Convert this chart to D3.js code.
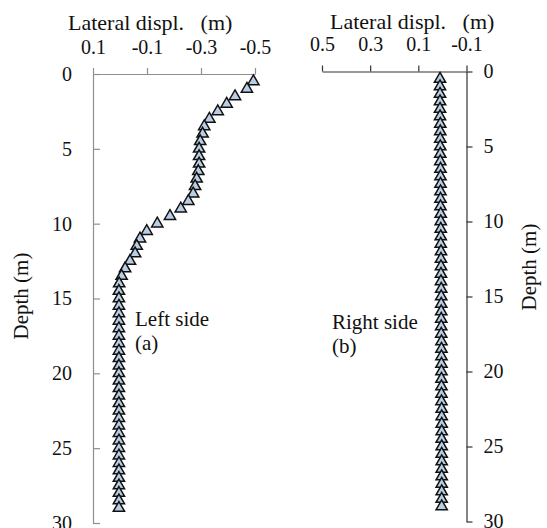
<!DOCTYPE html>
<html>
<head>
<meta charset="utf-8">
<script src="https://cdnjs.cloudflare.com/ajax/libs/d3/7.8.5/d3.min.js"></script>
<style>
  body { margin: 0; background: #fff; }
  svg text { font-family: "Liberation Serif", "Times New Roman", serif; fill: #111; }
  .pre { white-space: pre; }
</style>
</head>
<body>
<div id="chart"></div>
<script>

// depth of each reading (m), same for both sides
var depths = [0.5, 1, 1.5, 2, 2.5, 3, 3.5, 4, 4.5, 5, 5.5, 6, 6.5, 7, 7.5, 8, 8.5, 9, 9.5, 10,
              10.5, 11, 11.5, 12, 12.5, 13, 13.5, 14, 14.5, 15, 15.5, 16, 16.5, 17, 17.5, 18, 18.5, 19, 19.5, 20,
              20.5, 21, 21.5, 22, 22.5, 23, 23.5, 24, 24.5, 25, 25.5, 26, 26.5, 27, 27.5, 28, 28.5, 29];

// lateral displacement, left side (m)
var leftDispl = [-0.494, -0.470, -0.426, -0.395, -0.362, -0.331, -0.312, -0.306, -0.297, -0.293,
                 -0.293, -0.293, -0.290, -0.284, -0.278, -0.271, -0.253, -0.225, -0.185, -0.138,
                 -0.099, -0.074, -0.062, -0.056, -0.037, -0.019, -0.006, 0.003, 0.004, 0.004,
                 0.004, 0.004, 0.004, 0.004, 0.004, 0.004, 0.004, 0.004, 0.004, 0.004,
                 0.004, 0.004, 0.004, 0.004, 0.004, 0.004, 0.004, 0.004, 0.004, 0.004,
                 0.004, 0.004, 0.004, 0.004, 0.004, 0.004, 0.004, 0.004];

// lateral displacement, right side (m)
var rightDispl = [0.010, 0.010, 0.010, 0.010, 0.010, 0.010, 0.009, 0.009, 0.009, 0.009,
                  0.009, 0.009, 0.008, 0.008, 0.008, 0.008, 0.008, 0.008, 0.007, 0.007,
                  0.007, 0.007, 0.007, 0.006, 0.006, 0.006, 0.006, 0.006, 0.005, 0.005,
                  0.005, 0.005, 0.005, 0.005, 0.005, 0.004, 0.004, 0.004, 0.004, 0.004,
                  0.004, 0.004, 0.004, 0.004, 0.003, 0.003, 0.003, 0.003, 0.003, 0.003,
                  0.003, 0.003, 0.003, 0.003, 0.003, 0.003, 0.003, 0.003];

var leftTicks  = [0.1, -0.1, -0.3, -0.5],
    rightTicks = [0.5, 0.3, 0.1, -0.1],
    depthTicks = [0, 5, 10, 15, 20, 25, 30];

var width = 547, height = 528;

var svg = d3.select("#chart").append("svg")
            .attr("width", width).attr("height", height);

var fmt = function(d) { return d.toFixed(1); };
var tri = d3.symbol().type(d3.symbolTriangle).size(55);

// ---- left panel ----
var xL = d3.scaleLinear().domain([0.1, -0.5]).range([93, 255]),
    yL = d3.scaleLinear().domain([0, 30]).range([74, 523]);

var gxL = svg.append("g").attr("transform", "translate(0,74)")
   .call(d3.axisTop(xL).tickValues(leftTicks).tickFormat(fmt)
           .tickSizeInner(6).tickSizeOuter(0).tickPadding(14));

var gyL = svg.append("g").attr("transform", "translate(93,0)")
   .call(d3.axisLeft(yL).tickValues(depthTicks).tickFormat(d3.format("d"))
           .tickSizeInner(-7).tickSizeOuter(0).tickPadding(21));

[gxL, gyL].forEach(function(g) {
  g.selectAll("path, line").attr("stroke", "#8f8f8f").attr("stroke-width", 1.2);
  g.selectAll("text").style("font-size", "20px").attr("fill", "#111");
});

svg.append("g").selectAll("path")
   .data(depths)
   .enter().append("path")
   .attr("d", tri)
   .attr("transform", function(d, i) { return "translate(" + xL(leftDispl[i]) + "," + yL(d) + ")"; })
   .attr("fill", "#b9cde5")
   .attr("stroke", "#111")
   .attr("stroke-width", 1.5);

svg.append("text").attr("class", "pre")
   .attr("x", 68).attr("y", 30)
   .style("font-size", "22px")
   .text("Lateral displ.   (m)");

svg.append("text")
   .attr("transform", "translate(28,296) rotate(-90)")
   .attr("text-anchor", "middle")
   .style("font-size", "21px")
   .text("Depth (m)");

svg.append("text").attr("x", 135).attr("y", 326).style("font-size", "21px").text("Left side");
svg.append("text").attr("x", 135).attr("y", 350).style("font-size", "21px").text("(a)");

// ---- right panel ----
var xR = d3.scaleLinear().domain([0.5, -0.1]).range([322, 466.5]),
    yR = d3.scaleLinear().domain([0, 30]).range([71.5, 521.5]);

var gxR = svg.append("g").attr("transform", "translate(0,71.5)")
   .call(d3.axisTop(xR).tickValues(rightTicks).tickFormat(fmt)
           .tickSizeInner(6).tickSizeOuter(0).tickPadding(15));

var gyR = svg.append("g").attr("transform", "translate(466.5,0)")
   .call(d3.axisRight(yR).tickValues(depthTicks).tickFormat(d3.format("d"))
           .tickSizeInner(6).tickSizeOuter(0).tickPadding(11));

[gxR, gyR].forEach(function(g) {
  g.selectAll("path, line").attr("stroke", "#333").attr("stroke-width", 1.2);
  g.selectAll("text").style("font-size", "20px").attr("fill", "#111");
});

svg.append("g").selectAll("path")
   .data(depths)
   .enter().append("path")
   .attr("d", tri)
   .attr("transform", function(d, i) { return "translate(" + xR(rightDispl[i]) + "," + yR(d) + ")"; })
   .attr("fill", "#b9cde5")
   .attr("stroke", "#111")
   .attr("stroke-width", 1.5);

svg.append("text").attr("class", "pre")
   .attr("x", 330).attr("y", 29)
   .style("font-size", "22px")
   .text("Lateral displ.   (m)");

svg.append("text")
   .attr("transform", "translate(536,267) rotate(-90)")
   .attr("text-anchor", "middle")
   .style("font-size", "21px")
   .text("Depth (m)");

svg.append("text").attr("x", 332).attr("y", 329).style("font-size", "21px").text("Right side");
svg.append("text").attr("x", 332).attr("y", 353).style("font-size", "21px").text("(b)");

</script>
</body>
</html>
